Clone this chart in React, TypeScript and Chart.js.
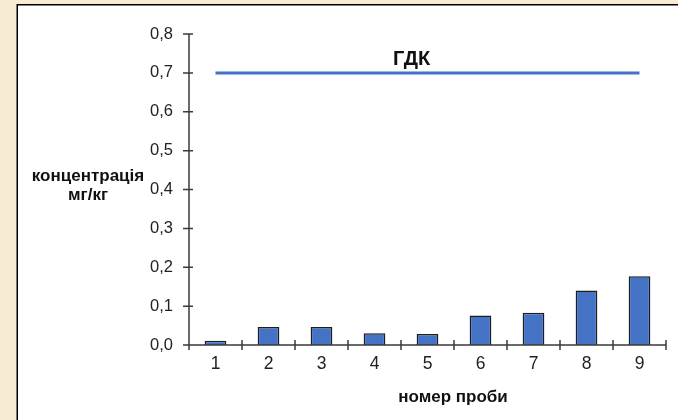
import React, { useEffect, useRef } from "react";
import { Chart, registerables } from "chart.js";

Chart.register(...registerables);

const categories = ["1", "2", "3", "4", "5", "6", "7", "8", "9"];
const concentration = [0.011, 0.046, 0.046, 0.03, 0.028, 0.076, 0.083, 0.14, 0.177];
const limitValue = 0.7;
const limitSeries = categories.map(() => limitValue);
const yTicks = [0, 0.1, 0.2, 0.3, 0.4, 0.5, 0.6, 0.7, 0.8];
const limitLabel = "ГДК";
const yTitle = ["концентрація", "мг/кг"];
const xTitle = "номер проби";

const FONT = "'Liberation Sans', Arial, sans-serif";
const BLUE = "#4472C4";
const AXIS = "#3a3a3a";

const decorPlugin = {
  id: "decor",
  beforeDraw(chart: any) {
    const { ctx, width, height } = chart;
    ctx.save();
    ctx.fillStyle = "#F7EBD3";
    ctx.fillRect(0, 0, width, height);
    ctx.fillStyle = "#ffffff";
    ctx.fillRect(17, 4, width - 17, height - 4);
    ctx.strokeStyle = "#000000";
    ctx.lineWidth = 1.5;
    ctx.beginPath();
    ctx.moveTo(17.25, height);
    ctx.lineTo(17.25, 4.75);
    ctx.lineTo(width, 4.75);
    ctx.stroke();
    ctx.restore();
  },
  afterDraw(chart: any) {
    const { ctx, chartArea } = chart;
    const xs = chart.scales.x;
    const ys = chart.scales.y;
    const { left, right, top, bottom } = chartArea;
    ctx.save();
    ctx.strokeStyle = AXIS;
    ctx.lineWidth = 1.5;
    ctx.beginPath();
    ctx.moveTo(left, top);
    ctx.lineTo(left, bottom);
    ctx.moveTo(left, bottom);
    ctx.lineTo(right, bottom);
    yTicks.forEach((v) => {
      const y = ys.getPixelForValue(v);
      ctx.moveTo(left - 6, y);
      ctx.lineTo(left + 4, y);
    });
    for (let i = 0; i <= categories.length; i++) {
      const x = xs.getPixelForValue(i - 0.5);
      ctx.moveTo(x, bottom - 5);
      ctx.lineTo(x, bottom + 5);
    }
    ctx.stroke();

    ctx.fillStyle = "#111111";
    ctx.textAlign = "center";
    ctx.textBaseline = "middle";
    ctx.font = `bold 20px ${FONT}`;
    ctx.fillText(limitLabel, xs.getPixelForValue(3.7), ys.getPixelForValue(limitValue) - 13);

    ctx.font = `bold 17px ${FONT}`;
    ctx.fillText(yTitle[0], 88, 176);
    ctx.fillText(yTitle[1], 88, 195);

    ctx.font = `bold 17px ${FONT}`;
    ctx.fillText(xTitle, 453, 397);
    ctx.restore();
  },
};

export default function App() {
  const ref = useRef<HTMLCanvasElement>(null);

  useEffect(() => {
    document.body.style.margin = "0";
    const canvas = ref.current;
    if (!canvas) return;
    const chart = new Chart(canvas, {
      type: "bar",
      data: {
        labels: categories,
        datasets: [
          {
            type: "line",
            data: limitSeries,
            borderColor: BLUE,
            borderWidth: 3,
            pointRadius: 0,
            fill: false,
            order: 0,
          } as any,
          {
            type: "bar",
            data: concentration,
            backgroundColor: BLUE,
            borderColor: "#1e1e1e",
            borderWidth: 1.5,
            categoryPercentage: 1,
            barPercentage: 0.41,
            order: 1,
          },
        ],
      },
      options: {
        animation: false,
        responsive: false,
        devicePixelRatio: 1,
        layout: { padding: { left: 0, top: 34, right: 12, bottom: 0 } },
        plugins: {
          legend: { display: false },
          tooltip: { enabled: false },
          title: { display: false },
        },
        scales: {
          x: {
            type: "category",
            offset: true,
            grid: { display: false, drawTicks: false, offset: true },
            border: { display: false },
            ticks: {
              color: "#222222",
              font: { family: FONT, size: 17.5 },
              padding: 9,
              maxRotation: 0,
            },
            afterFit(scale: any) {
              scale.height = 75;
            },
          },
          y: {
            min: 0,
            max: 0.8,
            grid: { display: false, drawTicks: false },
            border: { display: false },
            ticks: {
              stepSize: 0.1,
              color: "#222222",
              font: { family: FONT, size: 16.5 },
              padding: 16,
              callback: (v: any) => Number(v).toFixed(1).replace(".", ","),
            },
            afterFit(scale: any) {
              scale.width = 189;
            },
          },
        },
      },
      plugins: [decorPlugin],
    });
    return () => chart.destroy();
  }, []);

  return (
    <div style={{ position: "fixed", left: 0, top: 0, width: 678, height: 420 }}>
      <canvas ref={ref} width={678} height={420} style={{ display: "block" }} />
    </div>
  );
}
